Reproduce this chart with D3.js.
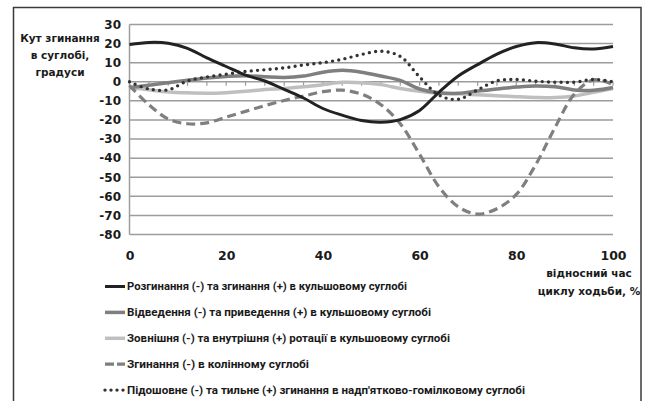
<!DOCTYPE html>
<html>
  <head>
    <meta charset="utf-8">
    <title>Кут згинання в суглобі</title>
    <script src="https://d3js.org/d3.v7.min.js"></script>
    <style>
      body { margin: 0; background: #fff; }
      text { font-family: "DejaVu Sans", sans-serif; font-weight: bold; fill: #1a1a1a; }
      .legend text { font-family: Roboto, "Open Sans", sans-serif; font-size: 11px; }
    </style>
  </head>
  <body>
    <div id="chart"></div>
    <script>
      // data
      const categories = [0, 4, 8, 12, 16, 20, 24, 28, 32, 36, 40, 44, 48, 52, 56, 60, 64, 68, 72, 76, 80, 84, 88, 92, 96, 100];
      const hipFlexion = [19.5, 20.6, 20.2, 17.5, 12.5, 8, 3.5, 0.4, -4, -8.5, -14, -17.5, -20.3, -21.2, -19.8, -15, -5.5, 3, 9, 14.5, 18.5, 20.5, 19.8, 17.8, 17.2, 18.5];
      const hipAbduction = [-3, -1.8, -0.5, 0.8, 2, 2.8, 3.2, 2.6, 2.2, 3, 5, 6, 5, 3, 0.7, -3.8, -5.8, -6, -4.8, -3.8, -2.8, -2.2, -2.6, -4.3, -4.5, -3];
      const hipRotation = [-3, -4.2, -5.3, -5.8, -6, -5.7, -5, -4, -3.5, -2.6, -1.5, -0.3, -0.5, -1.5, -3.5, -5, -6, -6.3, -6.8, -7.3, -7.8, -8.2, -8.3, -7.5, -5.5, -3.5];
      const kneeFlexion = [-2, -12, -19.5, -22, -21.5, -18.5, -15.5, -12.5, -9.8, -7.5, -5.2, -4.4, -6.5, -12, -22, -38, -55, -65.5, -69.3, -66.5, -59, -43.5, -24, -6.5, 1, -1.5];
      const ankleFlexion = [0, -3.8, -4.2, 0.4, 2.5, 4, 5.4, 6.3, 7.3, 8.8, 10, 11.8, 14.3, 16, 13.3, 2.5, -7, -9.2, -4.2, 0.5, 1.2, 0.3, -0.2, -0.2, 1.2, 0];
      const seriesNames = [
        "Розгинання (-) та згинання (+) в кульшовому суглобі",
        "Відведення (-) та приведення (+) в кульшовому суглобі",
        "Зовнішня (-) та внутрішня (+) ротації в кульшовому суглобі",
        "Згинання (-) в колінному суглобі",
        "Підошовне (-) та тильне (+) згинання в надп'ятково-гомілковому суглобі"
      ];
      const yTicks = [30, 20, 10, 0, -10, -20, -30, -40, -50, -60, -70, -80];
      const xTicks = [0, 20, 40, 60, 80, 100];

      // styles per series
      const colours = ["#222222", "#7f7f7f", "#bfbfbf", "#7f7f7f", "#333333"];
      const widths = [3, 3.5, 3.5, 3.2, 3.4];
      const dashes = [null, null, null, "9,5", "0,6.3"];
      const legendWidths = [280, 304, 323, 182, 398];

      const series = [hipFlexion, hipAbduction, hipRotation, kneeFlexion, ankleFlexion];

      const svg = d3.select("#chart").append("svg")
        .attr("width", 646)
        .attr("height", 401);

      // outer frame
      svg.append("rect")
        .attr("x", 13.5).attr("y", 7.5)
        .attr("width", 627.5).attr("height", 420)
        .attr("fill", "none")
        .attr("stroke", "#3a3a3a")
        .attr("stroke-width", 1.5);

      const x = d3.scaleLinear().domain([0, 100]).range([129.5, 613]);
      const y = d3.scaleLinear().domain([-80, 30]).range([234.5, 24.5]);

      // gridlines
      const grid = svg.append("g").attr("class", "grid");
      yTicks.forEach(function(d) {
        grid.append("path")
          .attr("d", "M" + x(0) + "," + y(d) + "H" + x(100))
          .attr("stroke", "#9c9c9c")
          .attr("stroke-width", 1.5);
      });
      // vertical axis line
      grid.append("path")
        .attr("d", "M" + x(0) + "," + y(30) + "V" + y(-80))
        .attr("stroke", "#9c9c9c")
        .attr("stroke-width", 1.5);
      // category ticks on the zero line
      categories.forEach(function(d) {
        grid.append("path")
          .attr("d", "M" + x(d) + "," + y(0) + "V" + (y(0) + 4))
          .attr("stroke", "#9c9c9c")
          .attr("stroke-width", 1.2);
      });

      // y labels
      const yAxis = svg.append("g")
        .attr("transform", "translate(121,0)")
        .call(d3.axisLeft(y).tickValues(yTicks).tickSize(0).tickPadding(0).tickFormat(function(d) { return String(d); }));
      yAxis.select(".domain").remove();
      yAxis.selectAll("text").attr("font-size", 12).attr("font-family", null).attr("fill", "#1a1a1a");

      // x labels
      const xAxis = svg.append("g")
        .attr("transform", "translate(0,255)")
        .call(d3.axisBottom(x).tickValues(xTicks).tickSize(0).tickPadding(0));
      xAxis.select(".domain").remove();
      xAxis.selectAll("text")
        .attr("y", 0).attr("dy", "0.36em")
        .attr("font-size", 12.5).attr("font-family", null).attr("fill", "#1a1a1a");

      // axis titles
      svg.append("text")
        .attr("text-anchor", "middle")
        .attr("font-size", 10.5)
        .selectAll("tspan")
        .data(["Кут згинання", "в суглобі,", "градуси"])
        .enter().append("tspan")
          .attr("x", 60)
          .attr("y", function(d, i) { return 42 + i * 17; })
          .text(function(d) { return d; });
      svg.append("text")
        .attr("text-anchor", "middle")
        .attr("font-size", 10.5)
        .selectAll("tspan")
        .data(["відносний час", "циклу ходьби, %"])
        .enter().append("tspan")
          .attr("x", 589)
          .attr("y", function(d, i) { return 277 + i * 18; })
          .text(function(d) { return d; });

      // lines
      const line = d3.line()
        .x(function(d, i) { return x(categories[i]); })
        .y(function(d) { return y(d); })
        .curve(d3.curveCatmullRom);
      const order = [2, 1, 3, 4, 0];
      svg.append("g")
        .selectAll("path")
        .data(order)
        .enter().append("path")
          .attr("d", function(k) { return line(series[k]); })
          .attr("fill", "none")
          .attr("stroke", function(k) { return colours[k]; })
          .attr("stroke-width", function(k) { return widths[k]; })
          .attr("stroke-dasharray", function(k) { return dashes[k]; })
          .attr("stroke-linecap", function(k) { return k == 4 ? "round" : "butt"; });

      // legend
      const legend = svg.append("g").attr("class", "legend")
        .selectAll("g")
        .data(seriesNames)
        .enter().append("g")
          .attr("transform", function(d, i) { return "translate(0," + (286.5 + i * 25.9) + ")"; });
      legend.append("line")
        .attr("x1", 105).attr("x2", 125)
        .attr("stroke", function(d, i) { return colours[i]; })
        .attr("stroke-width", function(d, i) { return widths[i]; })
        .attr("stroke-dasharray", function(d, i) { return i == 3 ? "9,3" : i == 4 ? "0,6" : null; })
        .attr("stroke-linecap", function(d, i) { return i == 4 ? "round" : "butt"; });
      legend.append("text")
        .attr("x", 127)
        .attr("dy", "0.36em")
        .attr("textLength", function(d, i) { return legendWidths[i]; })
        .attr("lengthAdjust", "spacingAndGlyphs")
        .text(function(d) { return d; });
    </script>
  </body>
</html>
